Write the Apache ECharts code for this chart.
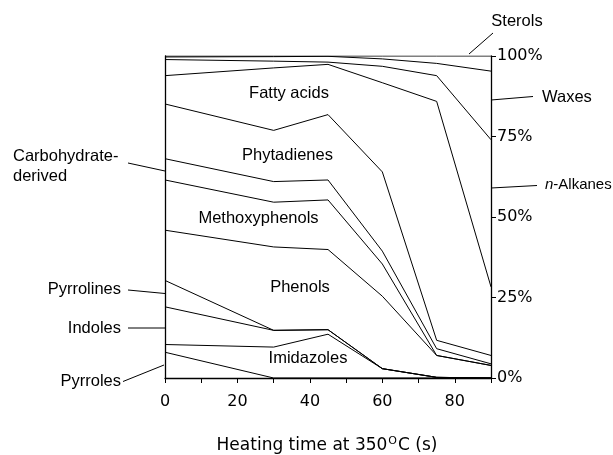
<!DOCTYPE html>
<html><head><meta charset="utf-8">
<script src="https://cdn.jsdelivr.net/npm/echarts@6/dist/echarts.min.js"></script>
<style>html,body{margin:0;padding:0;background:#fff}#c{width:613px;height:455px}</style>
</head><body><div id="c"></div>
<script>
// Heating time (s)
const times = [0, 30, 45, 60, 75, 90];
// Share (%) of each compound class, bottom to top of the stack
const pyrroles       = [8.0, 0.0, 0.0, 0.0, 0.0, 0.0];
const imidazoles     = [2.4, 9.6, 13.6, 2.9, 0.2, 0.0];
const indoles        = [11.7, 5.2, 1.4, 0.0, 0.0, 0.0];
const pyrrolines     = [8.2, 0.0, 0.0, 0.0, 0.0, 0.0];
const phenols        = [15.6, 25.9, 24.9, 22.5, 6.8, 3.9];
const methoxyphenols = [15.6, 13.9, 15.4, 10.0, 0.0, 0.0];
const carbohydrate   = [6.6, 6.4, 6.2, 4.0, 2.1, 0.5];
const phytadienes    = [17.0, 15.9, 20.3, 24.6, 2.6, 2.6];
const fattyAcids     = [8.8, 19.4, 15.6, 27.7, 74.2, 21.3];
const nAlkanes       = [5.0, 2.1, 0.7, 5.1, 8.0, 45.7];
const waxes          = [0.8, 1.4, 1.8, 2.3, 3.8, 21.3];
const sterols        = [0.3, 0.2, 0.1, 0.9, 2.3, 4.7];

const categories = ['Pyrroles','Imidazoles','Indoles','Pyrrolines','Phenols','Methoxyphenols',
  'Carbohydrate-derived','Phytadienes','Fatty acids','n-Alkanes','Waxes','Sterols'];
const seriesValues = [pyrroles, imidazoles, indoles, pyrrolines, phenols, methoxyphenols,
  carbohydrate, phytadienes, fattyAcids, nAlkanes, waxes, sterols];

const xTickLabels = ['0', '20', '40', '60', '80'];
const yTickLabels = ['0%', '25%', '50%', '75%', '100%'];
const xTitle = 'Heating time at 350{sup|O}C (s)';

const chart = echarts.init(document.getElementById('c'), null, {renderer: 'canvas'});
const TXT = 'Liberation Sans, Arial, sans-serif';
const NUM = 'DejaVu Sans, sans-serif';

// cumulative (stacked) boundaries
const running = times.map(() => 0);
const series = categories.map((name, k) => {
  const data = times.map((t, i) => { running[i] += seriesValues[k][i]; return [t, +running[i].toFixed(2)]; });
  return {name, type: 'line', symbol: 'none', silent: true, yAxisIndex: 0,
    lineStyle: {color: '#000', width: 1}, data, z: 3};
});

function txt(text, x, y, align, valign, extra) {
  return {type: 'text', x, y, silent: true, z: 10,
    style: Object.assign({text, fill: '#000', font: '16.5px ' + TXT, align: align, verticalAlign: valign}, extra || {})};
}
function ln(x1, y1, x2, y2) {
  return {type: 'line', silent: true, z: 10, shape: {x1, y1, x2, y2}, style: {stroke: '#000', lineWidth: 1}};
}

chart.setOption({
  animation: false,
  backgroundColor: '#fff',
  grid: {left: 165, right: 122, top: 56, bottom: 77, containLabel: false},
  xAxis: {
    type: 'value', min: 0, max: 90, interval: 20,
    axisLine: {show: true, onZero: false, lineStyle: {color: '#000', width: 1.3}},
    axisTick: {show: true, length: 5, lineStyle: {color: '#000', width: 1}},
    minorTick: {show: true, splitNumber: 2, length: 5, lineStyle: {color: '#000', width: 1}},
    splitLine: {show: false}, minorSplitLine: {show: false},
    axisLabel: {color: '#000', fontSize: 16, fontFamily: NUM, margin: 16,
      formatter: v => xTickLabels.includes(String(v)) ? String(v) : ''}
  },
  yAxis: [{
    type: 'value', position: 'right', min: 0, max: 100, interval: 25,
    axisLine: {show: true, onZero: false, lineStyle: {color: '#000', width: 1.3}},
    axisTick: {show: true, length: 5, lineStyle: {color: '#000', width: 1}},
    splitLine: {show: false},
    axisLabel: {color: '#000', fontSize: 16, fontFamily: NUM, margin: 6, padding: [5, 0, 0, 0],
      formatter: v => yTickLabels.includes(v + '%') ? v + '%' : ''}
  }, {
    type: 'value', position: 'left', min: 0, max: 100, interval: 25,
    axisLine: {show: true, onZero: false, lineStyle: {color: '#000', width: 1.3}},
    axisTick: {show: false}, axisLabel: {show: false}, splitLine: {show: false}
  }],
  series,
  graphic: [
    // axis title
    {type: 'text', x: 327, y: 446, silent: true, style: {
      text: xTitle, fill: '#000', font: '17px ' + NUM, align: 'center', verticalAlign: 'middle',
      rich: {sup: {fontSize: 11, fontFamily: NUM, verticalAlign: 'top', padding: [0, 1, 9, 1]}}}},
    // in-plot labels
    txt('Fatty acids', 289, 93, 'center', 'middle'),
    txt('Phytadienes', 287.5, 155, 'center', 'middle'),
    txt('Methoxyphenols', 258.5, 218.5, 'center', 'middle'),
    txt('Phenols', 300, 287.5, 'center', 'middle'),
    txt('Imidazoles', 308, 358, 'center', 'middle'),
    // right annotations
    txt('Sterols', 517, 21, 'center', 'middle'), ln(469, 54, 493, 33),
    txt('Waxes', 542, 97.5, 'left', 'middle'), ln(491, 100, 533, 96.5),
    {type: 'text', x: 545, y: 185, silent: true, style: {text: '{it|n}-Alkanes', fill: '#000',
      font: '15px ' + TXT, align: 'left', verticalAlign: 'middle',
      rich: {it: {fontStyle: 'italic', fontSize: 15, fontFamily: TXT}}}},
    ln(491, 188, 537, 185.5),
    // left annotations
    txt('Carbohydrate-', 13, 156.5, 'left', 'middle'),
    txt('derived', 13, 176, 'left', 'middle'), ln(128, 163, 165, 171),
    txt('Pyrrolines', 121, 289.5, 'right', 'middle'), ln(128, 290, 165, 293.5),
    txt('Indoles', 121, 328, 'right', 'middle'), ln(128, 328, 165, 328),
    txt('Pyrroles', 121, 381.5, 'right', 'middle'), ln(123, 381.5, 164, 365)
  ]
});
</script></body></html>
